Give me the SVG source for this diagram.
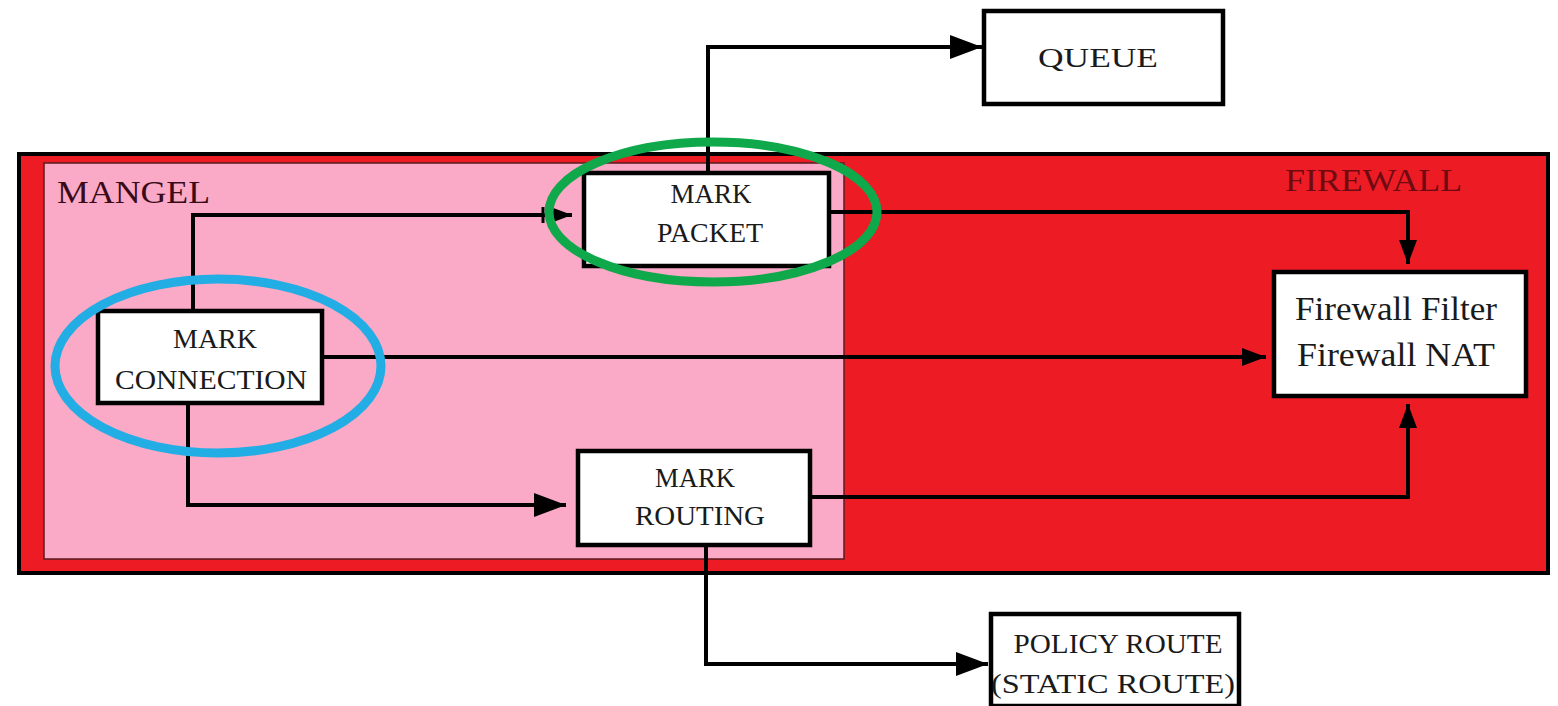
<svg xmlns="http://www.w3.org/2000/svg" width="1558" height="706" viewBox="0 0 1558 706">
<defs>
<marker id="big" markerUnits="userSpaceOnUse" markerWidth="32" markerHeight="24" viewBox="0 0 32 24" refX="32" refY="12" orient="auto">
<path d="M0,0 L32,12 L0,24 Z" fill="#000"/>
</marker>
<marker id="small" markerUnits="userSpaceOnUse" markerWidth="24" markerHeight="18" viewBox="0 0 24 18" refX="24" refY="9" orient="auto">
<path d="M0,0 L24,9 L0,18 Z" fill="#000"/>
</marker>
</defs>
<style>
.box{fill:#fff;stroke:#000;stroke-width:4.5}
.t{font-family:"Liberation Serif","DejaVu Serif",serif;fill:#1a1a1a;text-anchor:middle}
.n{font-size:28px}
.c{fill:none;stroke:#000;stroke-width:4;stroke-linejoin:miter}
.lbl{font-family:"Liberation Serif","DejaVu Serif",serif;font-size:32px}
</style>
<rect width="1558" height="706" fill="#fff"/>
<g id="firewall">
<rect x="19" y="154" width="1529" height="419" fill="#ED1C24" stroke="#000" stroke-width="4"/>
<text class="lbl" x="1285" y="191" fill="#6e0a12" textLength="177" lengthAdjust="spacingAndGlyphs">FIREWALL</text>
</g>
<g id="mangel">
<rect x="44" y="163" width="800" height="396" fill="#FAA9C6" stroke="#5a1a22" stroke-width="1.5"/>
<text class="lbl" x="57" y="203" fill="#3a0a18" textLength="153" lengthAdjust="spacingAndGlyphs">MANGEL</text>
</g>
<g id="connectors">
<path class="c" d="M708,172 V47 H982" marker-end="url(#big)"/>
<path class="c" d="M193,310 V215 H572" marker-end="url(#small)"/>
<line x1="543" y1="207" x2="543" y2="223" stroke="#000" stroke-width="3"/>
<path class="c" d="M323,357 H1266" marker-end="url(#small)"/>
<path class="c" d="M188,403 V505 H566" marker-end="url(#big)"/>
<path class="c" d="M829,212 H1408 V264" marker-end="url(#small)"/>
<path class="c" d="M811,497 H1408 V404" marker-end="url(#small)"/>
<path class="c" d="M706,546 V664 H988" marker-end="url(#big)"/>
</g>
<g id="mark-packet">
<rect class="box" x="584" y="173" width="245" height="93"/>
<text class="t n" x="711" y="203" textLength="81" lengthAdjust="spacingAndGlyphs">MARK</text>
<text class="t n" x="710" y="242" textLength="106" lengthAdjust="spacingAndGlyphs">PACKET</text>
</g>
<g id="mark-connection">
<rect class="box" x="98" y="311" width="224" height="92"/>
<text class="t n" x="215" y="348" textLength="84" lengthAdjust="spacingAndGlyphs">MARK</text>
<text class="t n" x="211" y="389" textLength="192" lengthAdjust="spacingAndGlyphs">CONNECTION</text>
</g>
<g id="mark-routing">
<rect class="box" x="578" y="451" width="232" height="94"/>
<text class="t n" x="695" y="487" textLength="80" lengthAdjust="spacingAndGlyphs">MARK</text>
<text class="t n" x="700" y="525" textLength="130" lengthAdjust="spacingAndGlyphs">ROUTING</text>
</g>
<g id="firewall-filter">
<rect class="box" x="1274" y="272" width="252" height="124"/>
<text class="t" x="1396" y="320" font-size="33" textLength="202" lengthAdjust="spacingAndGlyphs">Firewall Filter</text>
<text class="t" x="1396" y="366" font-size="33" textLength="198" lengthAdjust="spacingAndGlyphs">Firewall NAT</text>
</g>
<g id="queue">
<rect class="box" x="984" y="11" width="239" height="93"/>
<text class="t n" x="1098" y="67" textLength="120" lengthAdjust="spacingAndGlyphs">QUEUE</text>
</g>
<g id="policy-route">
<rect class="box" x="991" y="614" width="248" height="92"/>
<text class="t n" x="1118" y="653" textLength="209" lengthAdjust="spacingAndGlyphs">POLICY ROUTE</text>
<text class="t n" x="1113" y="693" textLength="244" lengthAdjust="spacingAndGlyphs">(STATIC ROUTE)</text>
</g>
<g id="highlights" fill="none" stroke-width="9">
<ellipse cx="713" cy="212" rx="164" ry="70" stroke="#0FA84B"/>
<ellipse cx="218" cy="366" rx="163" ry="87" stroke="#22AEE5"/>
</g>
</svg>
